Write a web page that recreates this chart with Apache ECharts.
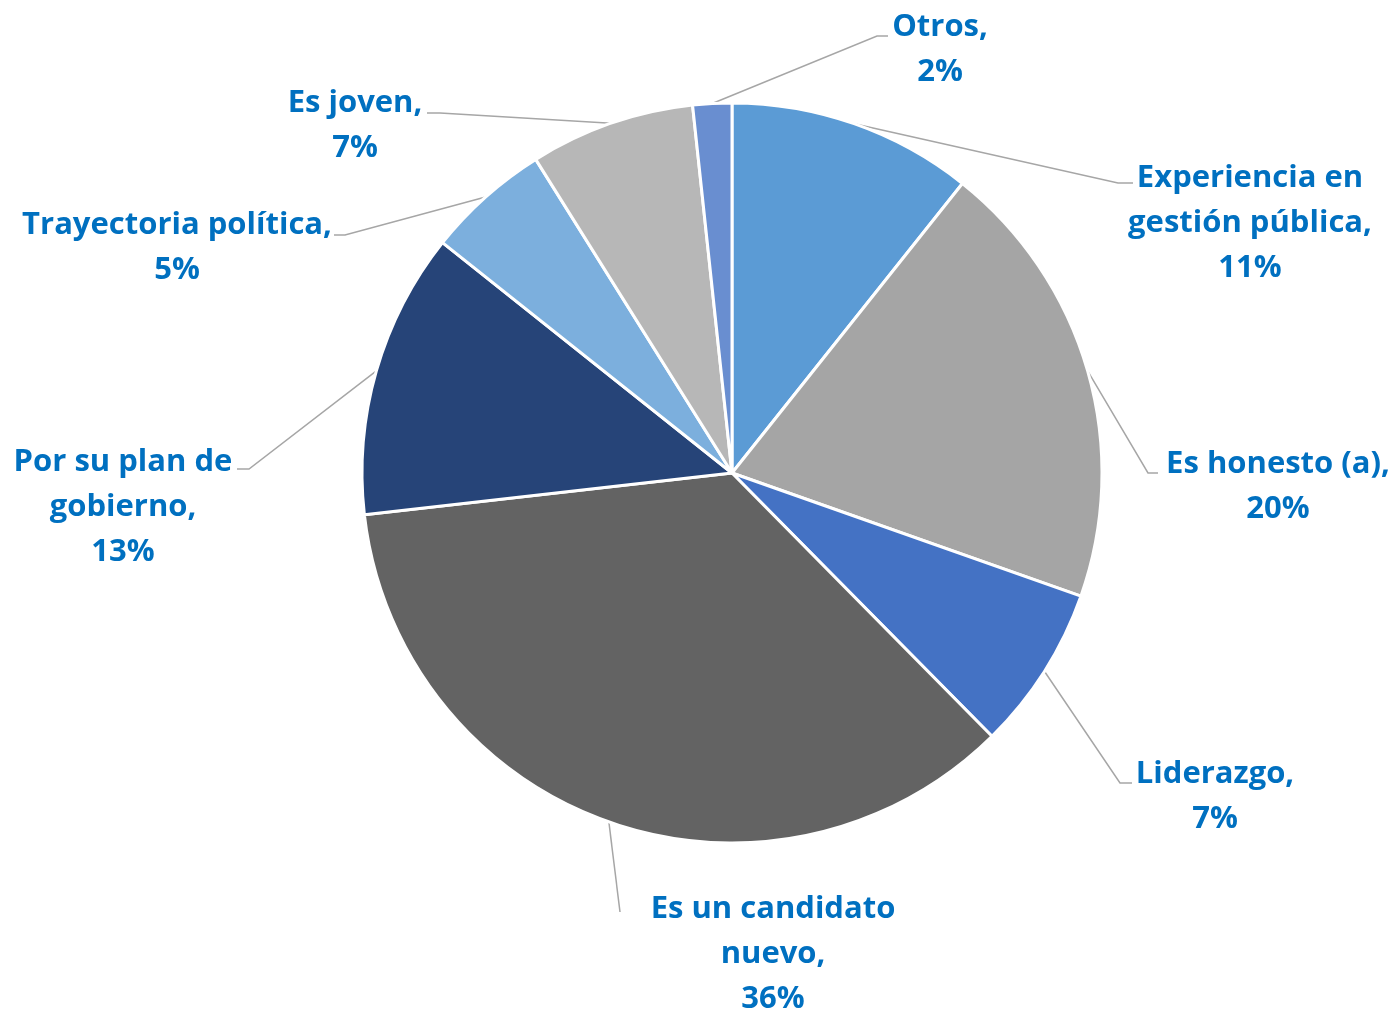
<!DOCTYPE html>
<html>
<head>
<meta charset="utf-8">
<script src="https://cdn.jsdelivr.net/npm/echarts@6/dist/echarts.min.js"></script>
<style>
  html, body { margin: 0; padding: 0; background: #ffffff; }
  #chart { width: 1396px; height: 1012px; }
</style>
</head>
<body>
<div id="chart"></div>
<script>
// Categories (line breaks as in the reference labels)
const categories = [
  'Experiencia en\ngestión pública',
  'Es honesto (a)',
  'Liderazgo',
  'Es un candidato\nnuevo',
  'Por su plan de\ngobierno',
  'Trayectoria política',
  'Es joven',
  'Otros'
];
// Share of answers (%)
const values = [10.7, 19.7, 7.2, 35.6, 12.5, 5.4, 7.2, 1.7];
// Slice colours
const colors = ['#5B9BD5', '#A5A5A5', '#4472C4', '#636363', '#264478', '#7CAFDD', '#B7B7B7', '#698ED0'];

// Label placement (layout only): label centre, leader-line bend and end
const labelCenters = [
  [1250, 223], [1278, 487], [1215, 797], [773, 954],
  [123, 507], [177, 248], [355, 126], [940, 50]
];
const lineBends = [
  [1118, 183], [1148, 473], [1120, 783], [620, 912],
  [249, 469], [345, 235], [440, 113], [877, 36]
];
const lineEnds = [
  [1133, 183], [1158, 473], [1132, 783], [620, 912],
  [237, 469], [334, 235], [427, 113], [888, 36]
];

const chart = echarts.init(document.getElementById('chart'), null, { renderer: 'canvas' });

const option = {
  backgroundColor: '#ffffff',
  animation: false,
  series: [{
    type: 'pie',
    center: [732, 473],
    radius: 370,
    startAngle: 90,
    clockwise: true,
    avoidLabelOverlap: false,
    data: categories.map((c, i) => ({
      name: c,
      value: values[i],
      itemStyle: { color: colors[i] }
    })),
    itemStyle: { borderColor: '#ffffff', borderWidth: 3 },
    label: {
      show: true,
      position: 'outside',
      formatter: p => p.name + ',\n' + Math.round(p.percent) + '%',
      fontFamily: 'Open Sans',
      fontWeight: 'bold',
      fontSize: 31,
      lineHeight: 45,
      color: '#0070C0',
      align: 'center'
    },
    labelLine: {
      show: true,
      length: 20,
      length2: 10,
      lineStyle: { color: '#A6A6A6', width: 1.5 }
    },
    emphasis: { disabled: true },
    labelLayout: function (params) {
      const i = params.dataIndex;
      const p0 = params.labelLinePoints ? params.labelLinePoints[0] : lineBends[i];
      return {
        x: labelCenters[i][0],
        y: labelCenters[i][1],
        align: 'center',
        verticalAlign: 'middle',
        labelLinePoints: [[p0[0], p0[1]], lineBends[i], lineEnds[i]]
      };
    }
  }]
};
chart.setOption(option);
</script>
</body>
</html>
